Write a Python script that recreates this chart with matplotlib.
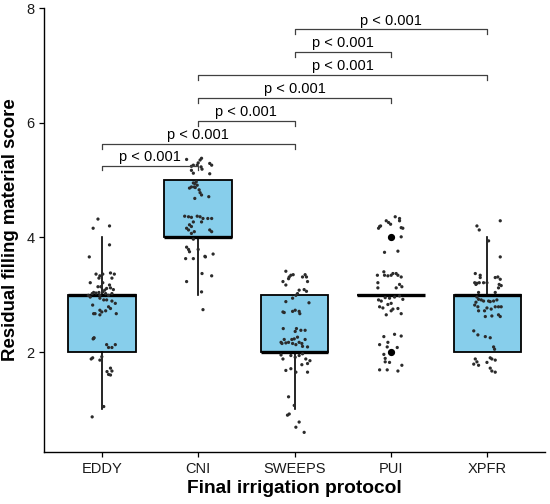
import numpy as np
import matplotlib
matplotlib.use("Agg")
import matplotlib.pyplot as plt

plt.rcParams['font.family'] = ['Liberation Sans', 'DejaVu Sans']

groups = ["EDDY", "CNI", "SWEEPS", "PUI", "XPFR"]

# box statistics
q1 = [2, 4, 2, 3, 2]
med = [3, 4, 2, 3, 3]
q3 = [3, 5, 3, 3, 3]
whislo = [1, 3, 1, 3, 2]
whishi = [4, 5, 3, 3, 4]
fliers = [[], [], [], [2, 4], []]

# jittered observations: horizontal offset and score as plotted
eddy = [(-0.04, 4.32), (-0.09, 4.16), (0.08, 4.20), (0.08, 3.87), (-0.13, 3.66),
        (-0.06, 3.36), (-0.02, 3.33), (0.01, 3.36), (0.09, 3.38), (0.13, 3.36),
        (-0.03, 3.29), (-0.12, 3.21), (0.105, 3.29), (0.01, 3.21), (-0.04, 3.14),
        (-0.01, 3.14), (0.08, 3.17), (0.05, 3.11), (0.09, 3.12), (0.03, 3.08),
        (0.12, 3.09), (0.01, 3.05), (-0.10, 3.02), (-0.085, 3.04), (-0.06, 3.03),
        (-0.03, 3.04), (-0.14, 2.99), (-0.12, 2.96), (-0.02, 2.99), (0.04, 3.02),
        (0.07, 2.99), (0.105, 3.02), (-0.02, 2.94), (0.02, 2.91), (0.05, 2.91),
        (0.105, 2.89), (0.14, 2.85), (-0.095, 2.82), (0.07, 2.79), (0.09, 2.76),
        (-0.02, 2.73), (0.00, 2.70), (0.04, 2.72), (-0.085, 2.67), (-0.07, 2.67),
        (-0.02, 2.65), (0.15, 2.67), (-0.085, 2.24), (-0.08, 2.25), (-0.09, 2.23),
        (0.05, 2.13), (0.07, 2.08), (0.105, 2.08), (0.14, 2.13), (-0.095, 1.90),
        (-0.11, 1.88), (-0.02, 1.86), (0.00, 1.92), (0.09, 1.72), (0.105, 1.67),
        (0.054, 1.66), (0.07, 1.61), (0.09, 1.60), (0.02, 1.05), (-0.10, 0.87)]

cni = [(-0.12, 5.36), (-0.07, 5.24), (-0.05, 5.26), (-0.01, 5.26), (0.02, 5.35),
       (0.035, 5.38), (0.0, 5.30), (0.03, 5.23), (0.04, 5.19), (0.12, 5.29),
       (0.14, 5.26), (-0.07, 5.17), (-0.05, 5.12), (0.12, 5.11), (-0.05, 4.95),
       (-0.035, 4.94), (-0.02, 4.97), (-0.07, 4.88), (-0.04, 4.88), (-0.09, 4.86),
       (-0.03, 4.87), (-0.01, 4.91), (0.01, 4.83), (0.02, 4.78), (0.035, 4.74),
       (-0.035, 4.68), (0.11, 4.71), (-0.14, 4.37), (-0.10, 4.36), (-0.07, 4.35),
       (-0.01, 4.37), (0.02, 4.36), (0.05, 4.33), (0.10, 4.33), (0.14, 4.33),
       (-0.05, 4.27), (0.035, 4.27), (-0.09, 4.22), (-0.07, 4.19), (-0.12, 4.16),
       (-0.10, 4.13), (-0.04, 4.10), (-0.07, 4.07), (0.12, 4.13), (0.14, 4.10),
       (-0.05, 3.97), (-0.12, 3.83), (-0.10, 3.79), (-0.09, 3.75), (0.0, 3.79),
       (-0.13, 3.63), (-0.05, 3.63), (0.07, 3.67), (0.075, 3.66), (0.155, 3.71),
       (0.04, 3.37), (0.14, 3.33), (-0.12, 3.23), (0.035, 3.05), (0.05, 2.74)]

sweeps = [(-0.09, 3.41), (-0.055, 3.31), (-0.038, 3.34), (-0.014, 3.35), (-0.062, 3.28),
          (-0.12, 3.23), (-0.09, 3.17), (0.083, 3.31), (0.11, 3.35), (0.124, 3.31),
          (0.135, 3.23), (0.048, 3.08), (0.10, 3.09), (0.124, 3.06), (0.014, 2.99),
          (0.031, 3.02), (-0.02, 2.94), (-0.09, 2.88), (0.15, 2.86), (-0.12, 2.70),
          (-0.107, 2.69), (-0.02, 2.71), (0.007, 2.73), (0.048, 2.71), (0.055, 2.67),
          (-0.117, 2.41), (0.02, 2.41), (0.007, 2.36), (0.066, 2.38), (0.11, 2.38),
          (-0.14, 2.17), (-0.107, 2.22), (-0.09, 2.16), (-0.062, 2.17), (-0.028, 2.22),
          (-0.003, 2.23), (0.031, 2.26), (0.048, 2.17), (0.076, 2.15), (0.11, 2.22),
          (-0.13, 2.15), (-0.02, 2.15), (0.014, 2.13), (0.083, 2.10), (0.135, 2.09),
          (-0.14, 1.95), (-0.12, 1.88), (-0.038, 1.94), (0.007, 1.91), (0.048, 1.94),
          (0.083, 1.97), (0.117, 1.88), (0.16, 1.85), (0.135, 1.80), (-0.09, 1.68),
          (-0.038, 1.71), (0.076, 1.78), (0.014, 1.65), (0.135, 1.65), (-0.062, 1.22),
          (-0.003, 1.07), (-0.055, 0.92), (-0.073, 0.90), (0.048, 0.78), (0.014, 0.69),
          (0.10, 0.60)]

pui = [(-0.128, 4.16), (-0.107, 4.20), (-0.117, 4.19), (-0.048, 4.29), (-0.024, 4.26),
       (-0.003, 4.23), (0.045, 4.36), (0.09, 4.33), (0.09, 4.29), (0.107, 4.17),
       (0.124, 4.16), (0.107, 4.01), (-0.066, 3.74), (0.073, 3.76), (-0.14, 3.34),
       (-0.073, 3.40), (-0.066, 3.34), (-0.031, 3.33), (0.003, 3.34), (0.021, 3.37),
       (0.055, 3.37), (0.073, 3.34), (0.107, 3.31), (-0.135, 3.21), (0.09, 3.18),
       (-0.135, 3.12), (0.055, 3.12), (0.114, 3.14), (-0.128, 2.91), (-0.10, 2.89),
       (-0.059, 2.95), (-0.014, 2.94), (0.038, 2.96), (0.09, 2.98), (0.124, 2.92),
       (-0.117, 2.79), (-0.083, 2.77), (-0.031, 2.83), (0.003, 2.85), (0.021, 2.75),
       (0.073, 2.76), (0.107, 2.67), (0.003, 2.72), (-0.048, 2.65), (-0.073, 2.27),
       (0.038, 2.31), (0.107, 2.28), (-0.117, 2.13), (-0.031, 2.17), (-0.038, 2.09),
       (0.066, 2.08), (-0.073, 1.96), (-0.059, 1.89), (-0.059, 1.83), (-0.014, 1.82),
       (0.114, 1.77), (-0.117, 1.69), (-0.038, 1.69), (0.073, 1.67)]

xpfr = [(-0.107, 4.20), (-0.083, 4.13), (0.135, 4.29), (0.014, 3.94), (0.135, 3.66),
        (-0.124, 3.37), (-0.073, 3.34), (-0.073, 3.30), (-0.13, 3.21), (-0.107, 3.20),
        (-0.117, 3.18), (-0.083, 3.21), (-0.038, 3.21), (-0.003, 3.21), (0.083, 3.30),
        (0.11, 3.31), (0.135, 3.27), (0.124, 3.18), (0.145, 3.16), (0.117, 3.12),
        (-0.09, 3.04), (0.083, 3.04), (-0.107, 2.96), (-0.09, 2.92), (-0.062, 2.91),
        (-0.117, 2.87), (-0.038, 2.89), (0.014, 2.89), (0.031, 2.88), (0.066, 2.89),
        (0.10, 2.91), (-0.13, 2.82), (-0.097, 2.79), (-0.09, 2.72), (-0.028, 2.72),
        (-0.003, 2.77), (0.041, 2.75), (0.083, 2.79), (0.117, 2.79), (0.145, 2.79),
        (-0.02, 2.62), (0.048, 2.63), (0.117, 2.65), (0.135, 2.62), (-0.14, 2.37),
        (-0.097, 2.30), (-0.02, 2.27), (0.031, 2.25), (0.066, 2.09), (0.076, 2.05),
        (-0.124, 1.88), (-0.107, 1.83), (-0.14, 1.79), (-0.09, 1.77), (0.031, 1.90),
        (0.048, 1.88), (0.083, 1.86), (-0.003, 1.82), (0.031, 1.72), (0.048, 1.67),
        (0.083, 1.65)]

points = [eddy, cni, sweeps, pui, xpfr]

# pairwise comparisons: (group a, group b, bracket height)
comparisons = [(0, 1, 5.25), (0, 2, 5.63), (1, 2, 6.03), (1, 3, 6.43),
               (1, 4, 6.83), (2, 3, 7.23), (2, 4, 7.63)]
p_label = "p < 0.001"

fig = plt.figure(figsize=(5.5, 5.04), dpi=100)
ax = fig.add_axes([0.08, 0.103, 0.911, 0.881])

pos = np.arange(1, len(groups) + 1)
stats = []
for i, g in enumerate(groups):
    stats.append(dict(label=g, q1=q1[i], med=med[i], q3=q3[i],
                      whislo=whislo[i], whishi=whishi[i], fliers=fliers[i]))

ax.bxp(stats, positions=pos, widths=0.7, patch_artist=True, showcaps=False,
       boxprops=dict(facecolor="#87CEEB", edgecolor="black", linewidth=1.3),
       medianprops=dict(color="black", linewidth=2.4, solid_capstyle="butt"),
       whiskerprops=dict(color="black", linewidth=1.2),
       flierprops=dict(marker="o", markerfacecolor="black",
                       markeredgecolor="black", markersize=4.2),
       zorder=2)

for i, pts in enumerate(points):
    dx = np.array([p[0] for p in pts])
    y = np.array([p[1] for p in pts])
    ax.scatter(pos[i] + dx, y, s=5.5, color="#2b2b2b", edgecolors="none", zorder=3)

tip = 0.08
for a, b, h in comparisons:
    ax.plot([pos[a], pos[a], pos[b], pos[b]], [h - tip, h, h, h - tip],
            color="#404040", linewidth=0.9, zorder=4)
    ax.text((pos[a] + pos[b]) / 2, h + 0.03, p_label, ha="center", va="bottom",
            fontsize=10.5, color="black")

ax.set_xlim(0.4, 5.6)
ax.set_ylim(0.256, 8.0)
ax.set_xticks(pos)
ax.set_xticklabels(groups)
ax.set_yticks([2, 4, 6, 8])
ax.tick_params(axis="both", labelsize=10.5, labelcolor="#1a1a1a",
               length=3.5, width=0.9, direction="out", pad=3.5)
for side in ["top", "right"]:
    ax.spines[side].set_visible(False)
for side in ["left", "bottom"]:
    ax.spines[side].set_linewidth(1.0)

ax.set_xlabel("Final irrigation protocol", fontsize=13.8, fontweight="bold", labelpad=3)
ax.set_ylabel("Residual filling material score", fontsize=13.4, fontweight="bold", labelpad=5)

fig.savefig("out.png", dpi=100)
